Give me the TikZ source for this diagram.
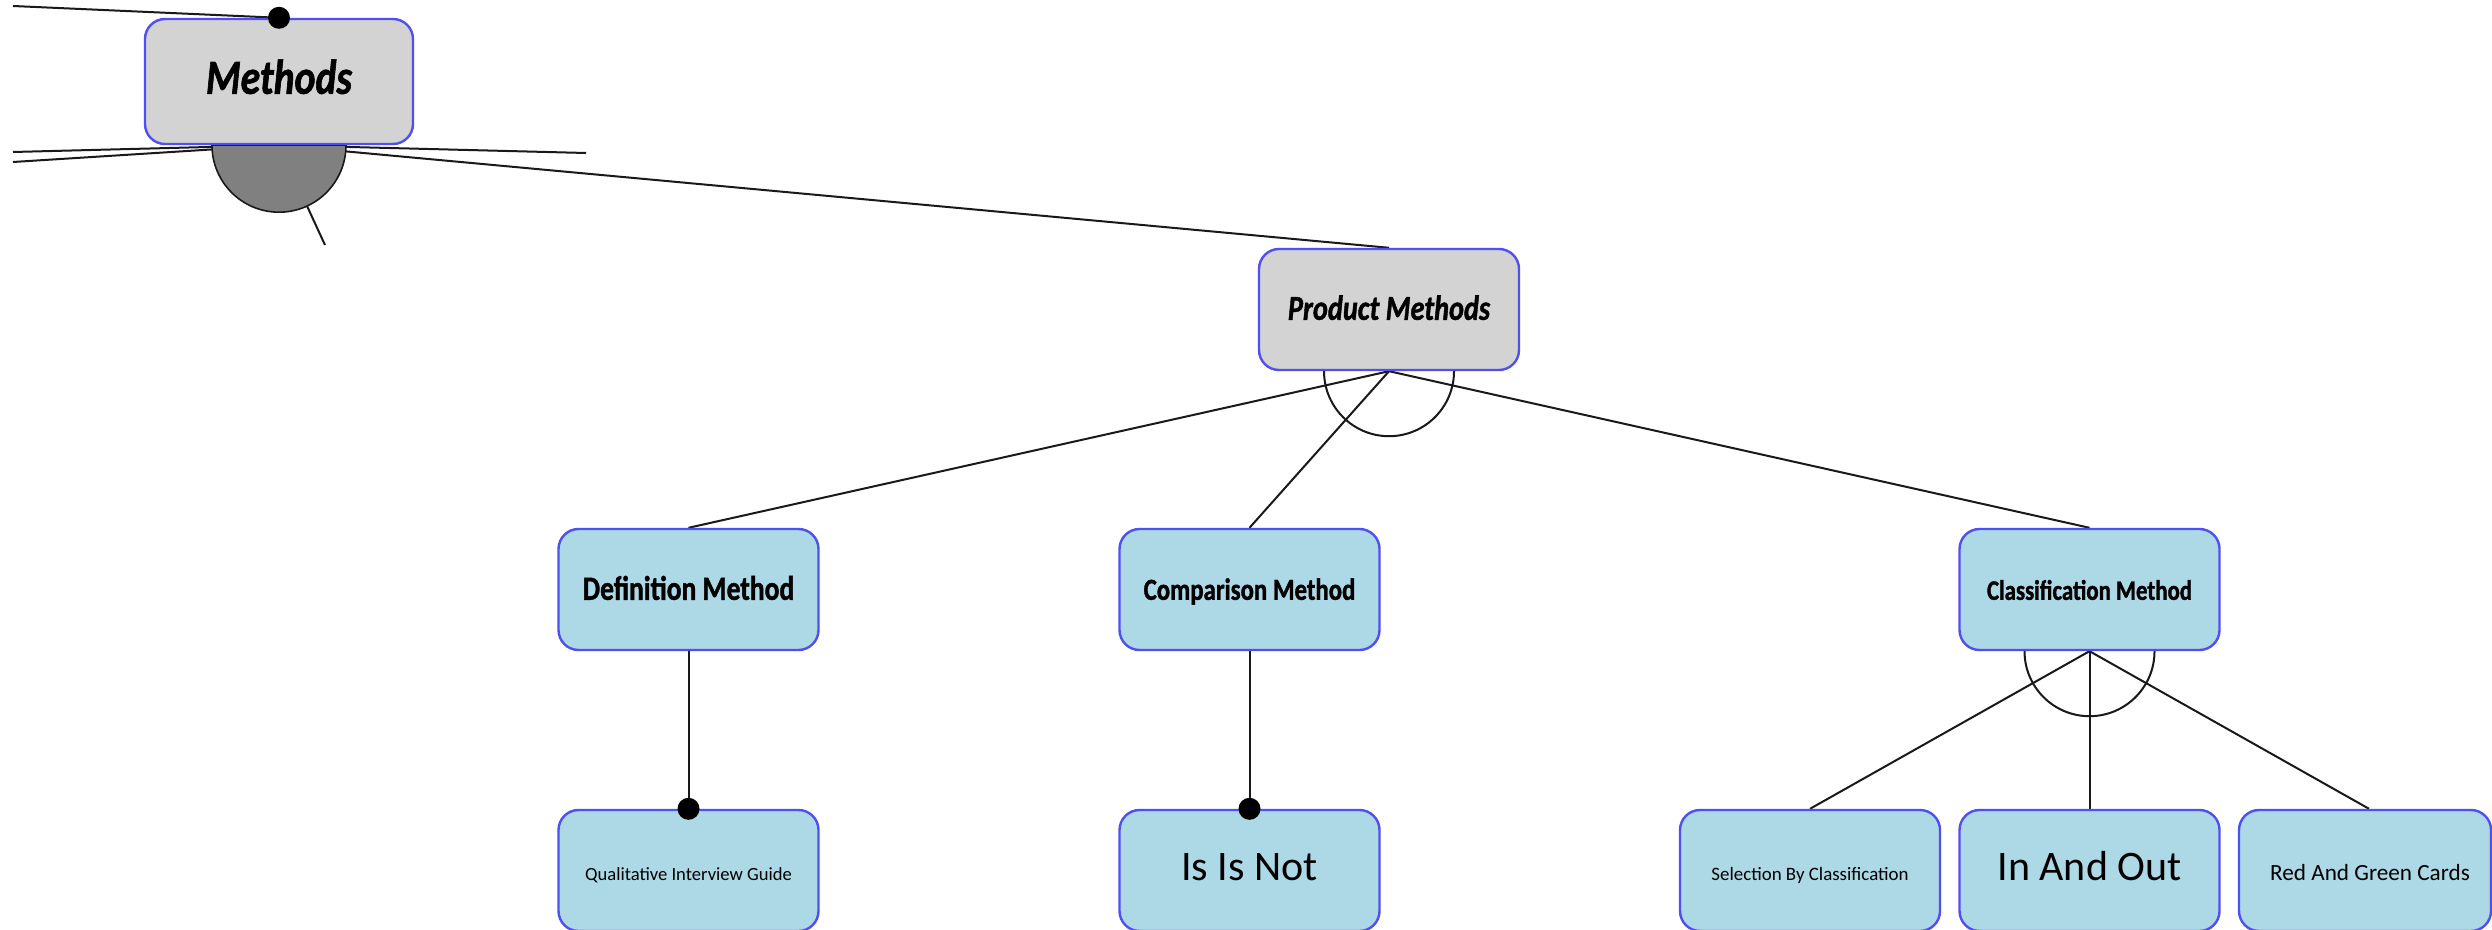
\documentclass[tikz,border=0pt]{standalone}
\usepackage{fontspec}
\usetikzlibrary{backgrounds}
\setmainfont{Carlito}
\newfontfamily\condfont{Carlito}[FakeStretch=0.81,FakeBold=1.2]
\definecolor{bordblue}{RGB}{80,80,240}
\definecolor{featgray}{RGB}{211,211,211}
\definecolor{featblue}{RGB}{173,216,230}
\definecolor{linecol}{RGB}{25,25,25}
\begin{document}
\begin{tikzpicture}[x=0.5pt,y=-0.5pt,
  box/.style={draw=bordblue,line width=1.2pt,rounded corners=10pt,minimum width=130pt,minimum height=60.5pt,inner sep=0pt},
  abs/.style={box,fill=featgray},
  conc/.style={box,fill=featblue},
  lbl/.style={anchor=base,inner sep=0pt},
  conn/.style={draw=linecol,line width=1pt},
  dotmark/.style={fill=black}]
\useasboundingbox (0,0) rectangle (2492,930);
% coordinates for loose ends
\coordinate (topin) at (13,6);
\coordinate (leftA) at (13,152);
\coordinate (leftB) at (13,162);
\coordinate (rightA) at (586,153);
\coordinate (downA) at (325,245);
% boxes
\node[abs,minimum width=134pt,minimum height=62.5pt] (m) at (279,81.5) {};
\node[abs] (pm) at (1389,309.5) {};
\node[conc] (def) at (688.5,589.5) {};
\node[conc] (cmp) at (1249.5,589.5) {};
\node[conc] (cls) at (2089.5,589.5) {};
\node[conc] (qig) at (688.5,870.5) {};
\node[conc] (isn) at (1249.5,870.5) {};
\node[conc] (sel) at (1810,870.5) {};
\node[conc] (ino) at (2089.5,870.5) {};
\node[conc,minimum width=126pt] (rgc) at (2365,870.5) {};
% labels
\node[lbl,font=\condfont\bfseries\itshape\fontsize{24.5}{28}\selectfont] (mt) at ([yshift=-38pt]m.north) {Methods};
\node[lbl,font=\condfont\bfseries\itshape\fontsize{17.5}{20}\selectfont] (pmt) at ([yshift=-36pt]pm.north) {Product Methods};
\node[lbl,font=\condfont\bfseries\fontsize{17}{20}\selectfont] (deft) at ([yshift=-36pt]def.north) {Definition Method};
\node[lbl,font=\condfont\bfseries\fontsize{15.3}{18}\selectfont] (cmpt) at ([yshift=-36pt]cmp.north) {Comparison Method};
\node[lbl,font=\condfont\bfseries\fontsize{14.1}{17}\selectfont] (clst) at ([yshift=-36pt]cls.north) {Classification Method};
\node[lbl,font=\fontsize{9.3}{11}\selectfont] (qigt) at ([yshift=-36pt]qig.north) {Qualitative Interview Guide};
\node[lbl,font=\fontsize{21}{25}\selectfont] (isnt) at ([yshift=-36pt]isn.north) {Is Is Not};
\node[lbl,font=\fontsize{9.45}{11}\selectfont] (selt) at ([yshift=-36pt]sel.north) {Selection By Classification};
\node[lbl,font=\fontsize{21}{25}\selectfont] (inot) at ([yshift=-36pt]ino.north) {In And Out};
\node[lbl,font=\fontsize{11.6}{14}\selectfont] (rgct) at ([xshift=2.5pt,yshift=-36pt]rgc.north) {Red And Green Cards};
% connectors behind boxes
\begin{scope}[on background layer]
  \draw[conn] (topin) -- (m.north);
  \draw[conn] (m.south) -- (leftA);
  \draw[conn] (m.south) -- (leftB);
  \draw[conn] (m.south) -- (rightA);
  \draw[conn] (m.south) -- (downA);
  \draw[conn] (m.south) -- (pm.north);
  \filldraw[fill=gray,draw=linecol,line width=0.8pt] ([xshift=-33.5pt]m.south) arc[start angle=180,end angle=360,radius=33.5pt] -- cycle;
  \draw[conn] (pm.south) -- (def.north);
  \draw[conn] (pm.south) -- (cmp.north);
  \draw[conn] (pm.south) -- (cls.north);
  \draw[conn] ([xshift=-32.5pt]pm.south) arc[start angle=180,end angle=360,radius=32.5pt];
  \draw[conn] (def.south) -- (qig.north);
  \draw[conn] (cmp.south) -- (isn.north);
  \draw[conn] (cls.south) -- (sel.north);
  \draw[conn] (cls.south) -- (ino.north);
  \draw[conn] (cls.south) -- ([xshift=2pt]rgc.north);
  \draw[conn] ([xshift=-32.5pt]cls.south) arc[start angle=180,end angle=360,radius=32.5pt];
\end{scope}
% dots
\fill[dotmark] (m.north) circle[radius=5.5pt];
\fill[dotmark] (qig.north) circle[radius=5.5pt];
\fill[dotmark] (isn.north) circle[radius=5.5pt];
\end{tikzpicture}
\end{document}
